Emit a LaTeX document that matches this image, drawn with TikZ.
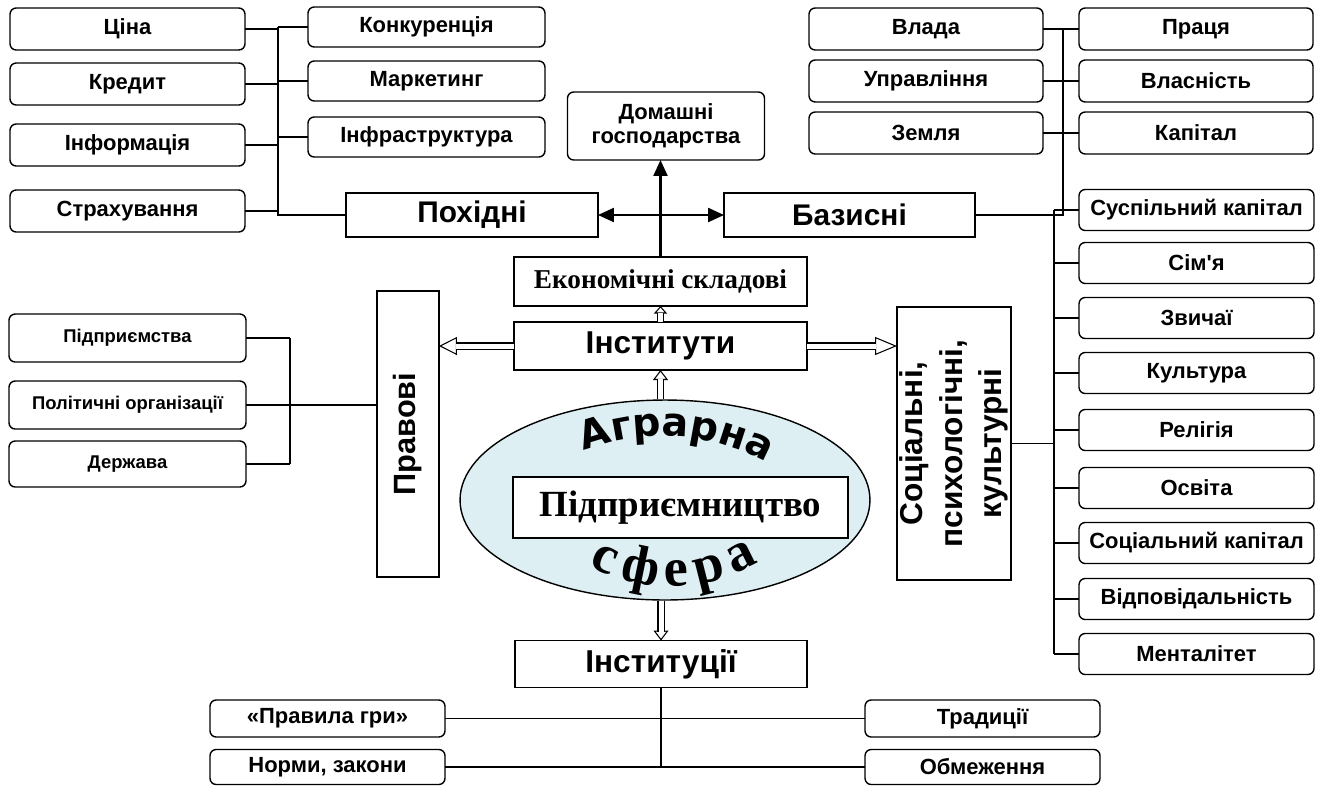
\documentclass[tikz,border=0pt]{standalone}
\usepackage{fontspec}
\setmainfont{Liberation Sans}
\newfontfamily\timesfont{Liberation Serif}
\newfontfamily\arcfont{DejaVu Sans}
\usetikzlibrary{arrows.meta,shapes.geometric,decorations.text,calc}
\tikzset{>=latex}
\definecolor{ellblue}{RGB}{221,239,243}
\tikzset{
  item/.style={draw, rounded corners=3.5pt, line width=0.8pt, inner sep=0pt, outer sep=0pt,
    minimum width=4.7cm, minimum height=0.84cm, font=\fontsize{12.5}{14}\selectfont\bfseries},
  bigbox/.style={draw, line width=0.8pt, inner sep=0pt, outer sep=0pt, fill=white},
  link/.style={line width=0.8pt},
  hollow/.style n args={3}{white, line width=0.1pt,
    -{Triangle[color=black, fill=white, line width=0.6pt, length=#1, width=#2]},
    postaction={draw=black, double=white, double distance=0.1cm, line width=0.6pt, shorten >=#3, -}},
  heavy/.style={line width=1.3pt, -{Triangle[length=0.32cm,width=0.28cm]}}
}

\begin{document}
\begin{tikzpicture}[x=0.02cm, y=-0.02cm]
    \useasboundingbox (0,0) rectangle (1324,785);
    % derived institutions (top left)
    \node [item] (cina) at (127.5,29) {Ціна};
    \node [item] (kredyt) at (127.5,84) {Кредит};
    \node [item] (inform) at (127.5,145) {Інформація};
    \node [item] (strakh) at (127.5,211) {Страхування};
    \node [item, minimum width=4.74cm, minimum height=0.8cm] (konk) at (426.5,27) {Конкуренція};
    \node [item, minimum width=4.74cm, minimum height=0.8cm] (market) at (426.5,81) {Маркетинг};
    \node [item, minimum width=4.74cm, minimum height=0.8cm] (infra) at (426.5,137) {Інфраструктура};
    \node [bigbox, minimum width=5.04cm, minimum height=0.88cm, font=\fontsize{17}{20}\selectfont\bfseries] (pokh) at (472,215) {Похідні};
    \node [bigbox, minimum width=5.02cm, minimum height=0.88cm, font=\fontsize{17}{20}\selectfont\bfseries] (bazys) at (849.5,215) {Базисні};
    \node [item, minimum width=3.94cm, minimum height=1.36cm, align=center] (domash) at (666,126) {Домашні\\господарства};
    % basic institutions (top right)
    \node [item, minimum width=4.68cm] (vlada) at (926,29) {Влада};
    \node [item, minimum width=4.68cm] (upr) at (926,81) {Управління};
    \node [item, minimum width=4.68cm] (zemlya) at (926,133) {Земля};
    \node [item, minimum width=4.68cm] (pratsia) at (1196,29) {Праця};
    \node [item, minimum width=4.68cm] (vlasn) at (1196,81) {Власність};
    \node [item, minimum width=4.68cm] (kapital) at (1196,133) {Капітал};
    \coordinate (tl) at (278,0);
    \coordinate (tr) at (1063,0);
    \foreach \n in {cina,kredyt,inform,strakh}
      \draw [link] (\n.east) -- (tl |- \n.east);
    \foreach \n in {konk,market,infra}
      \draw [link] (\n.west) -- (tl |- \n.west);
    \draw [link] (tl |- konk.west) -- (tl |- pokh.west) -- (pokh.west);
    \draw [link] (vlada.east) -- (pratsia.west);
    \draw [link] (upr.east) -- (vlasn.west);
    \draw [link] (zemlya.east) -- (kapital.west);
    \draw [link] (tr |- vlada.east) -- (tr |- bazys.east) -- (bazys.east);
    % centre
    \node [draw, ellipse, line width=0.8pt, fill=ellblue, minimum width=8.2cm, minimum height=4cm] (el) at (665,500) {};
    \node [bigbox, minimum width=6.7cm, minimum height=1.22cm, font=\timesfont\fontsize{21}{24}\selectfont\bfseries] (pidpr) at (680.5,507.5) {Підприємництво};
    \path [decorate, decoration={text along path, text align={fit to path},
      text={|\arcfont\bfseries\fontsize{22.5}{22.5}\selectfont|Аграрна}}]
      (584,451) .. controls (640,430) and (705,430) .. (763,461);
    \path [decorate, decoration={text along path, text align={fit to path},
      text={|\timesfont\bfseries\fontsize{31}{31}\selectfont|сфера}}]
      (589,566) .. controls (645,594) and (705,594) .. (759,562);
    \node [bigbox, minimum width=5.86cm, minimum height=0.96cm, font=\fontsize{18}{20}\selectfont\bfseries] (inst) at (660.5,346) {Інститути};
    \node [bigbox, minimum width=5.86cm, minimum height=0.98cm, font=\timesfont\fontsize{15.5}{18}\selectfont\bfseries] (ekon) at (660.5,281.5) {Економічні складові};
    \node [bigbox, minimum width=5.84cm, minimum height=0.94cm, font=\fontsize{18}{20}\selectfont\bfseries] (instc) at (661,664) {Інституції};
    \node [bigbox, rotate=90, minimum width=5.72cm, minimum height=1.24cm, font=\fontsize{17.5}{20}\selectfont\bfseries] (pravo) at (408,434) {Правові};
    \node [bigbox, rotate=90, minimum width=5.46cm, minimum height=2.28cm, align=center, font=\fontsize{18}{22.5}\selectfont\bfseries] (sotsial) at (954,443.5) {Соціальні,\\психологічні,\\культурні};
    \draw [hollow={0.2cm}{0.3cm}{0.18cm}] (el.north -| inst.south) -- (inst.south);
    \draw [hollow={0.15cm}{0.26cm}{0.13cm}] (inst.north) -- (ekon.south);
    \draw [hollow={0.36cm}{0.36cm}{0.34cm}] (inst.west) -- (inst.west -| pravo.south);
    \draw [hollow={0.44cm}{0.36cm}{0.42cm}] (inst.east) -- (inst.east -| sotsial.north);
    \draw [hollow={0.2cm}{0.3cm}{0.18cm}] (el.south -| instc.north) -- (instc.north);
    \draw [heavy] (ekon.north) -- (ekon.north |- domash.south);
    \draw [heavy, {Triangle[length=0.32cm,width=0.28cm]}-{Triangle[length=0.32cm,width=0.28cm]}] (pokh.east) -- (bazys.west);
    % legal (left)
    \node [item, minimum width=4.74cm, minimum height=0.96cm, font=\fontsize{10.5}{12}\selectfont\bfseries] (pidpryem) at (127.5,338) {Підприємства};
    \node [item, minimum width=4.74cm, minimum height=0.96cm, font=\fontsize{10.5}{12}\selectfont\bfseries] (polit) at (127.5,405) {Політичні організації};
    \node [item, minimum width=4.74cm, minimum height=0.92cm, font=\fontsize{10.5}{12}\selectfont\bfseries] (derzh) at (127.5,464) {Держава};
    \coordinate (lc) at (290,0);
    \foreach \n in {pidpryem,derzh}
      \draw [link] (\n.east) -- (lc |- \n.east);
    \draw [link] (lc |- pidpryem.east) -- (lc |- derzh.east);
    \draw [link] (polit.east) -- (polit.east -| pravo.north);
    % social (right)
    \node [item, minimum height=0.82cm] (suspil) at (1196.5,210) {Суспільний капітал};
    \node [item, minimum height=0.82cm] (simya) at (1196.5,263) {Сім\textquotesingle я};
    \node [item, minimum height=0.82cm] (zvych) at (1196.5,318) {Звичаї};
    \node [item, minimum height=0.82cm] (kult) at (1196.5,373) {Культура};
    \node [item, minimum height=0.82cm] (relig) at (1196.5,430) {Релігія};
    \node [item, minimum height=0.82cm] (osvita) at (1196.5,488) {Освіта};
    \node [item, minimum height=0.82cm] (sockap) at (1196.5,543) {Соціальний капітал};
    \node [item, minimum height=0.82cm] (vidpov) at (1196.5,599) {Відповідальність};
    \node [item, minimum height=0.82cm] (mental) at (1196.5,654) {Менталітет};
    \coordinate (rc) at (1054,0);
    \foreach \n in {suspil,simya,zvych,kult,relig,osvita,sockap,vidpov,mental}
      \draw [link] (\n.west) -- (rc |- \n.west);
    \draw [link] (rc |- suspil.west) -- (rc |- mental.west);
    \draw [link] (sotsial.south) -- (rc |- sotsial.south);
    % bottom
    \node [item, minimum height=0.74cm] (pravyla) at (327.5,718.5) {«Правила гри»};
    \node [item, minimum height=0.7cm] (normy) at (327.5,767) {Норми, закони};
    \node [item, minimum height=0.74cm] (tradyts) at (982.5,718.5) {Традиції};
    \node [item, minimum height=0.7cm] (obmezh) at (982.5,767) {Обмеження};
    \draw [link] (pravyla.east) -- (tradyts.west);
    \draw [link] (normy.east) -- (obmezh.west);
    \draw [link] (instc.south) -- (instc.south |- normy.east);
\end{tikzpicture}
\end{document}
